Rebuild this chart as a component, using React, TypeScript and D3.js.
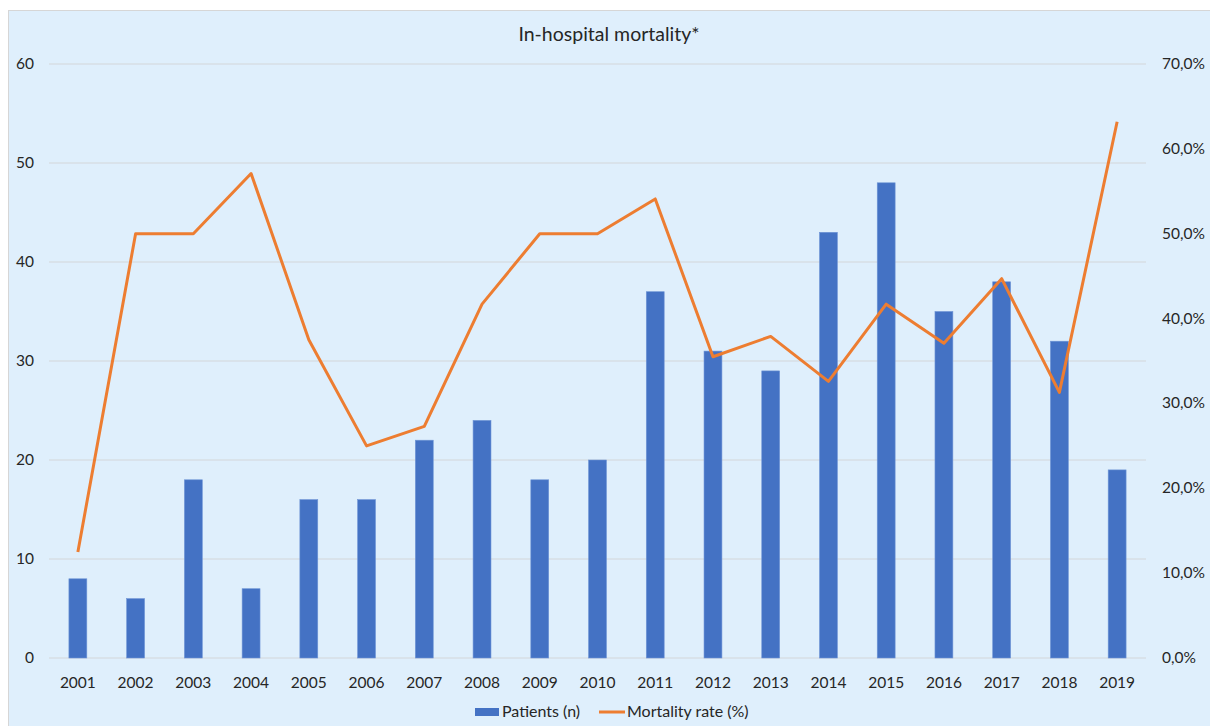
import React, { useEffect, useRef } from 'react';
import * as d3 from 'd3';

const years = ['2001', '2002', '2003', '2004', '2005', '2006', '2007', '2008', '2009', '2010',
  '2011', '2012', '2013', '2014', '2015', '2016', '2017', '2018', '2019'];
const patients = [8, 6, 18, 7, 16, 16, 22, 24, 18, 20, 37, 31, 29, 43, 48, 35, 38, 32, 19];
const mortality = [12.5, 50, 50, 57.1, 37.5, 25, 27.3, 41.7, 50, 50, 54.1, 35.5, 37.9, 32.6, 41.7, 37.1, 44.7, 31.3, 63.2];
const leftTicks = [0, 10, 20, 30, 40, 50, 60];
const rightTicks = [0, 10, 20, 30, 40, 50, 60, 70];

const FONT = 'Lato, "Open Sans", sans-serif';
const TEXT = '#262626';

const App: React.FC = () => {
  const svgRef = useRef<SVGSVGElement>(null);

  useEffect(() => {
    const svg = d3.select(svgRef.current);
    svg.selectAll('*').remove();

    const W = 1210, H = 726;
    const left = 49, right = 1146, top = 64, bottom = 658;

    // chart background
    svg.append('rect')
      .attr('x', 8.5).attr('y', 10.5)
      .attr('width', W).attr('height', H)
      .attr('fill', '#dfeffc')
      .attr('stroke', '#d6d6d6');

    const x = d3.scaleBand<string>().domain(years).range([left, right]).paddingInner(0.69).paddingOuter(0.345);
    const y = d3.scaleLinear().domain([0, 60]).range([bottom, top]);
    const y2 = d3.scaleLinear().domain([0, 70]).range([bottom, top]);

    // gridlines
    svg.append('g')
      .selectAll('line')
      .data(leftTicks)
      .enter()
      .append('line')
      .attr('x1', left).attr('x2', right)
      .attr('y1', d => y(d)).attr('y2', d => y(d))
      .attr('stroke', '#d3d6d9')
      .attr('stroke-width', 1);

    // left axis labels
    svg.append('g')
      .selectAll('text')
      .data(leftTicks)
      .enter()
      .append('text')
      .attr('x', 34)
      .attr('y', d => y(d) + 5)
      .attr('text-anchor', 'end')
      .style('font-family', FONT)
      .style('font-size', '15.5px')
      .style('fill', TEXT)
      .text(d => d);

    // right axis labels
    svg.append('g')
      .selectAll('text')
      .data(rightTicks)
      .enter()
      .append('text')
      .attr('x', 1162)
      .attr('y', d => y2(d) + 5)
      .style('font-family', FONT)
      .style('font-size', '15.5px')
      .style('fill', TEXT)
      .text(d => d.toFixed(1).replace('.', ',') + '%');

    // bars
    svg.append('g')
      .selectAll('rect')
      .data(patients)
      .enter()
      .append('rect')
      .attr('x', (_, i) => x(years[i]) || 0)
      .attr('y', d => y(d))
      .attr('width', x.bandwidth())
      .attr('height', d => bottom - y(d))
      .attr('fill', '#4472c4')
      .attr('stroke', '#6f95d6')
      .attr('stroke-width', 0.6);

    // x labels
    svg.append('g')
      .selectAll('text')
      .data(years)
      .enter()
      .append('text')
      .attr('x', d => (x(d) || 0) + x.bandwidth() / 2)
      .attr('y', 688)
      .attr('text-anchor', 'middle')
      .style('font-family', FONT)
      .style('font-size', '15.5px')
      .style('fill', TEXT)
      .text(d => d);

    // mortality line
    const line = d3.line<number>()
      .x((_, i) => (x(years[i]) || 0) + x.bandwidth() / 2)
      .y(d => y2(d));

    svg.append('path')
      .datum(mortality)
      .attr('fill', 'none')
      .attr('stroke', '#ed7d31')
      .attr('stroke-width', 3)
      .attr('stroke-linejoin', 'round')
      .attr('d', line);

    // title
    svg.append('text')
      .attr('x', 609)
      .attr('y', 41)
      .attr('text-anchor', 'middle')
      .style('font-family', FONT)
      .style('font-size', '19.5px')
      .style('fill', TEXT)
      .text('In-hospital mortality*');

    // legend
    const legend = svg.append('g');
    legend.append('rect')
      .attr('x', 475).attr('y', 708)
      .attr('width', 24).attr('height', 8)
      .attr('fill', '#4472c4');
    legend.append('text')
      .attr('x', 502).attr('y', 717)
      .style('font-family', FONT)
      .style('font-size', '16px')
      .style('fill', TEXT)
      .text('Patients (n)');
    legend.append('line')
      .attr('x1', 599).attr('x2', 625)
      .attr('y1', 712).attr('y2', 712)
      .attr('stroke', '#ed7d31')
      .attr('stroke-width', 3);
    legend.append('text')
      .attr('x', 627).attr('y', 717)
      .style('font-family', FONT)
      .style('font-size', '16px')
      .style('fill', TEXT)
      .text('Mortality rate (%)');
  }, []);

  return (
    <svg
      ref={svgRef}
      width={1210}
      height={726}
      style={{ position: 'absolute', left: 0, top: 0, background: '#ffffff' }}
    />
  );
};

export default App;
